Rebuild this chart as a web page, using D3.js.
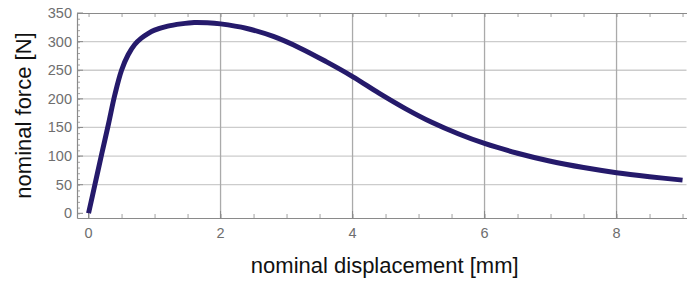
<!DOCTYPE html>
<html>
<head>
<meta charset="utf-8">
<script src="https://cdn.jsdelivr.net/npm/d3@7"></script>
<style>
  body { margin: 0; background: #fff; }
  svg { display: block; font-family: "Liberation Sans", Arial, sans-serif; }
</style>
</head>
<body>
<script>
// curve
const displacement = [0, 0.1, 0.2, 0.3, 0.4, 0.5, 0.6, 0.7, 0.8, 0.9, 1.0, 1.2, 1.4, 1.6, 1.8, 2.0, 2.4, 2.8, 3.2, 3.6, 4.0, 4.4, 4.8, 5.2, 5.6, 6.0, 6.5, 7.0, 7.5, 8.0, 8.5, 9.0];
const force = [0, 52, 104, 155, 208, 250, 277, 295, 306, 314, 320, 327, 331, 333.5, 333, 331, 323, 309, 289, 265, 239, 210, 183, 159, 139, 122, 105, 91, 80, 71, 64, 58];

const xTicks = [0, 2, 4, 6, 8];
const yTicks = [0, 50, 100, 150, 200, 250, 300, 350];
const xGrid = [2, 4, 6, 8];
const yGrid = [50, 100, 150, 200, 250, 300];

const w = 687, h = 282;
const plotLeft = 77, plotRight = 686.5, plotTop = 13, plotBottom = 218;

const svg = d3.select("body").append("svg")
  .attr("width", w)
  .attr("height", h);

const xScale = d3.scaleLinear().domain([-0.175, 9.06]).range([plotLeft, plotRight]);
const yScale = d3.scaleLinear().domain([-8.2, 350]).range([plotBottom, plotTop]);

// grid lines
svg.append("g").selectAll("line")
  .data(yGrid)
  .enter().append("line")
  .attr("x1", plotLeft).attr("x2", plotRight)
  .attr("y1", d => yScale(d)).attr("y2", d => yScale(d))
  .attr("stroke", "#cccccc")
  .attr("stroke-width", 1.3);

svg.append("g").selectAll("line")
  .data(xGrid)
  .enter().append("line")
  .attr("y1", plotTop).attr("y2", plotBottom)
  .attr("x1", d => xScale(d)).attr("x2", d => xScale(d))
  .attr("stroke", "#aaaaaa")
  .attr("stroke-width", 1.3);

// frame with ticks
const frameColor = "#8a8a8a";
const xMinor = d3.range(0, 9.01, 0.5);
const yMinor = d3.range(0, 351, 10);

const xAxisBottom = d3.axisTop(xScale).tickValues(xMinor).tickSize(4).tickFormat("").tickSizeOuter(0);
const xAxisTop = d3.axisBottom(xScale).tickValues(xMinor).tickSize(4).tickFormat("").tickSizeOuter(0);
const yAxisLeft = d3.axisRight(yScale).tickValues(yMinor).tickSize(3).tickFormat("").tickSizeOuter(0);

function styleAxis(g) {
  g.select(".domain").attr("stroke", frameColor).attr("stroke-width", 1.2);
  g.selectAll(".tick line").attr("stroke", frameColor).attr("stroke-width", 0.8);
}

svg.append("g").attr("transform", `translate(0,${plotBottom})`).call(xAxisBottom).call(styleAxis);
svg.append("g").attr("transform", `translate(0,${plotTop})`).call(xAxisTop).call(styleAxis);
svg.append("g").attr("transform", `translate(${plotLeft},0)`).call(yAxisLeft).call(styleAxis);

// major ticks a bit longer
svg.append("g").selectAll("line")
  .data(yTicks)
  .enter().append("line")
  .attr("x1", plotLeft).attr("x2", plotLeft + 6)
  .attr("y1", d => yScale(d)).attr("y2", d => yScale(d))
  .attr("stroke", frameColor).attr("stroke-width", 1);
svg.append("g").selectAll("line")
  .data(xTicks)
  .enter().append("line")
  .attr("x1", d => xScale(d)).attr("x2", d => xScale(d))
  .attr("y1", plotBottom).attr("y2", plotBottom - 7)
  .attr("stroke", frameColor).attr("stroke-width", 1);

// tick labels
svg.append("g").selectAll("text")
  .data(yTicks)
  .enter().append("text")
  .attr("x", plotLeft - 5)
  .attr("y", d => yScale(d) + 5)
  .attr("text-anchor", "end")
  .attr("font-size", 14.5)
  .attr("fill", "#6e6e6e")
  .text(d => d);

svg.append("g").selectAll("text")
  .data(xTicks)
  .enter().append("text")
  .attr("x", d => xScale(d))
  .attr("y", plotBottom + 20)
  .attr("text-anchor", "middle")
  .attr("font-size", 14.5)
  .attr("fill", "#6e6e6e")
  .text(d => d);

// the curve
const pts = displacement.map((d, i) => [d, force[i]]);
const line = d3.line()
  .x(d => xScale(d[0]))
  .y(d => yScale(d[1]))
  .curve(d3.curveCatmullRom.alpha(0.5));

svg.append("path")
  .datum(pts)
  .attr("d", line)
  .attr("fill", "none")
  .attr("stroke", "#251a6b")
  .attr("stroke-width", 5);

// axis titles
svg.append("text")
  .attr("x", (plotLeft + plotRight) / 2 + 3)
  .attr("y", 273)
  .attr("text-anchor", "middle")
  .attr("font-size", 22)
  .attr("fill", "#111")
  .text("nominal displacement [mm]");

svg.append("text")
  .attr("transform", `translate(31,${(plotTop + plotBottom) / 2}) rotate(-90)`)
  .attr("text-anchor", "middle")
  .attr("font-size", 22)
  .attr("fill", "#111")
  .text("nominal force [N]");
</script>
</body>
</html>
